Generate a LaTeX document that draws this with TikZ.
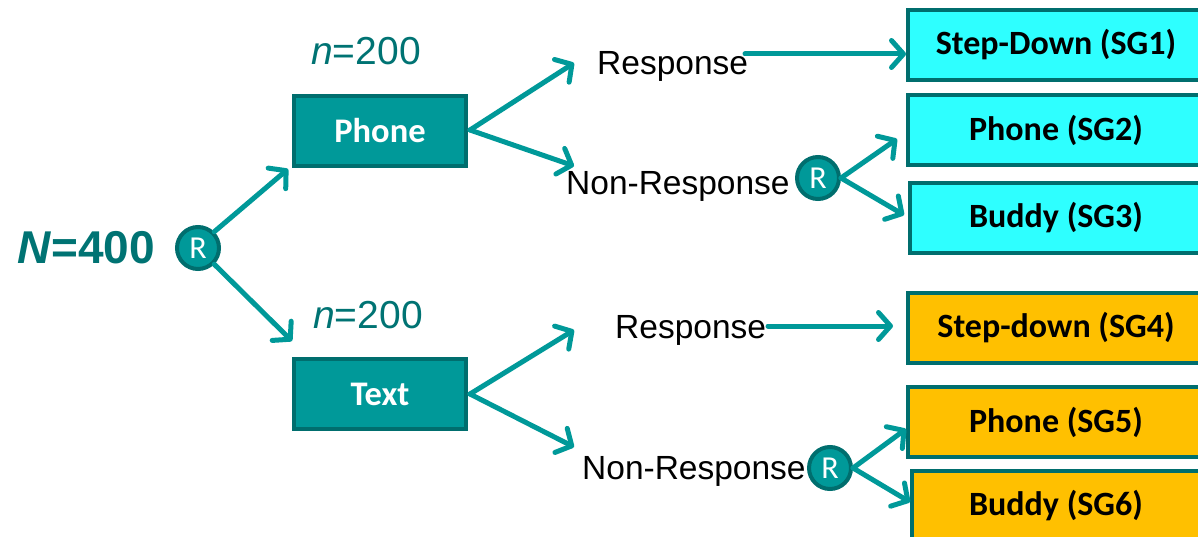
\documentclass[tikz,border=0pt]{standalone}
\usepackage{fontspec}
\setmainfont{Liberation Sans}
\newfontfamily\calfont{Carlito}
\usetikzlibrary{arrows.meta}
\definecolor{teal1}{HTML}{009999}
\definecolor{tealdark}{HTML}{006E6E}
\definecolor{tealtext}{HTML}{007373}
\definecolor{cyanbox}{HTML}{2EFFFF}
\definecolor{orangebox}{HTML}{FFC000}
\tikzset{
  conn/.style={draw=teal1, line width=5pt, line cap=round,
    -{Straight Barb[length=12pt,width=27pt,round]}},
  rnode/.style={circle, fill=teal1, draw=tealdark, line width=4pt, minimum size=42pt, inner sep=0pt,
    text=white, font=\calfont\fontsize{32}{34}\selectfont},
  armbox/.style={rectangle, fill=teal1, draw=tealdark, line width=4pt, minimum width=172pt, minimum height=70pt,
    text=white, font=\calfont\bfseries\fontsize{34.5}{36}\selectfont},
  sgbox/.style={rectangle, draw=tealdark, line width=4pt, minimum width=296pt, minimum height=70pt,
    text=black, font=\calfont\bfseries\fontsize{34}{36}\selectfont},
  lbl/.style={anchor=base west, inner sep=0pt, font=\fontsize{33.5}{36}\selectfont},
  nlbl/.style={anchor=base west, inner sep=0pt, text=tealtext, font=\fontsize{39}{42}\selectfont},
}
\begin{document}
\begin{tikzpicture}[x=1pt,y=-1pt]
\useasboundingbox (0,0) rectangle (1198,537);
% left
\node[anchor=base west, inner sep=0pt, text=tealtext, font=\bfseries\fontsize{46}{50}\selectfont] (N) at (17,263) {\textit{N}=400};
\node[rnode] (R1) at (198,248) {R};
% arm boxes
\node[armbox] (phone) at (380,131) {Phone};
\node[armbox] (text) at (380,394) {Text};
\node[nlbl] (n1) at (311,65) {\textit{n}=200};
\node[nlbl] (n2) at (313,328) {\textit{n}=200};
\coordinate (t1) at (288,169);
\coordinate (t2) at (292,341);
\draw[conn] (R1.45) -- (t1);
\draw[conn] (R1.-45) -- (t2);
% upper branch
\node[lbl] (resp1) at (597,75) {Response};
\node[lbl] (nonresp1) at (566,195) {Non-Response};
\node[rnode] (R2) at (818,178) {R};
\coordinate (ph1) at (470,130);
\coordinate (ta1) at (574,63);
\coordinate (ta2) at (574,166);
\draw[conn] (ph1) -- (ta1);
\draw[conn] (ph1) -- (ta2);
% lower branch
\node[lbl] (resp2) at (615,338) {Response};
\node[lbl] (nonresp2) at (582,479) {Non-Response};
\node[rnode] (R3) at (830,468) {R};
\coordinate (tx1) at (470,394);
\coordinate (tb1) at (574,330);
\coordinate (tb2) at (574,447);
\draw[conn] (tx1) -- (tb1);
\draw[conn] (tx1) -- (tb2);
% right boxes
\node[sgbox, fill=cyanbox] (sg1) at (1056,45) {Step-Down (SG1)};
\node[sgbox, fill=cyanbox] (sg2) at (1056,130) {Phone (SG2)};
\node[sgbox, fill=cyanbox, minimum width=292pt] (sg3) at (1056,218) {Buddy (SG3)};
\node[sgbox, fill=orangebox] (sg4) at (1056,328) {Step-down (SG4)};
\node[sgbox, fill=orangebox] (sg5) at (1056,422) {Phone (SG5)};
\node[sgbox, fill=orangebox, minimum width=288pt] (sg6) at (1056,506) {Buddy (SG6)};
% arrows to boxes
\coordinate (s1) at (745,54);
\draw[conn] (s1) -- (sg1.west |- s1);
\coordinate (s4) at (768,326);
\coordinate (e4) at (893,326);
\draw[conn] (s4) -- (e4);
\coordinate (e2) at (897,139);
\coordinate (e3) at (904,215);
\draw[conn] (R2.east) -- (e2);
\draw[conn] (R2.east) -- (e3);
\coordinate (e5) at (906,429);
\coordinate (e6) at (910,502);
\draw[conn] (R3.east) -- (e5);
\draw[conn] (R3.east) -- (e6);
\end{tikzpicture}
\end{document}
